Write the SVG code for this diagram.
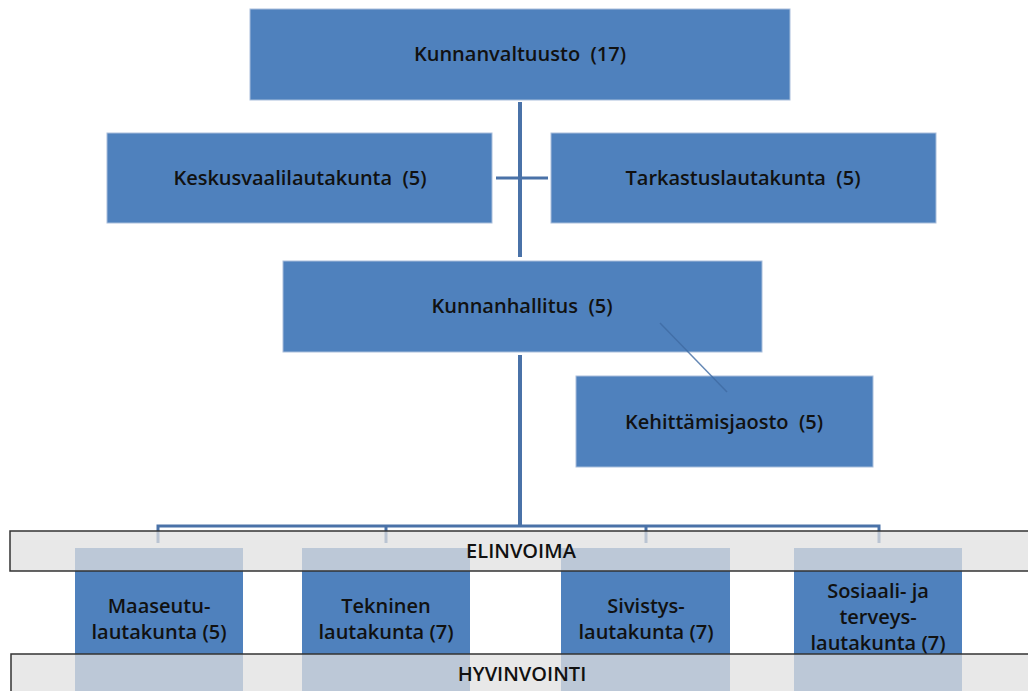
<svg xmlns="http://www.w3.org/2000/svg" width="1028" height="691" viewBox="0 0 1028 691">
<style>
.box{fill:#4f81bd;stroke:#a9bedb;stroke-width:1}
.t{font-family:"Open Sans","Liberation Sans",sans-serif;font-size:20px;font-weight:600;fill:#111;text-anchor:middle;white-space:pre}
.band{fill:#e0e0e0;fill-opacity:0.75;stroke:#333;stroke-width:1.5}
.c{stroke:#4a72a8;fill:none}
</style>
<rect width="1028" height="691" fill="#fff"/>
<g id="connectors">
<line class="c" x1="520" y1="102" x2="520" y2="257" stroke-width="4"/>
<line class="c" x1="496" y1="178" x2="548" y2="178" stroke-width="3"/>
<line class="c" x1="520" y1="355" x2="520" y2="526" stroke-width="4"/>
<polyline class="c" points="158,543 158,526 879,526 879,543" stroke-width="3"/>
<line class="c" x1="386" y1="526" x2="386" y2="543" stroke-width="3"/>
<line class="c" x1="646" y1="526" x2="646" y2="543" stroke-width="3"/>
</g>
<g id="kunnanvaltuusto"><rect class="box" x="250" y="9" width="540" height="91"/><text class="t" x="520" y="61">Kunnanvaltuusto  (17)</text></g>
<g id="keskusvaalilautakunta"><rect class="box" x="107" y="133" width="385" height="90"/><text class="t" x="300" y="185">Keskusvaalilautakunta  (5)</text></g>
<g id="tarkastuslautakunta"><rect class="box" x="551" y="133" width="385" height="90"/><text class="t" x="743" y="185">Tarkastuslautakunta  (5)</text></g>
<g id="kunnanhallitus"><rect class="box" x="283" y="261" width="479" height="91"/><text class="t" x="522" y="313">Kunnanhallitus  (5)</text></g>
<g id="kehittamisjaosto"><rect class="box" x="576" y="376" width="297" height="91"/><text class="t" x="724" y="429">Kehittämisjaosto  (5)</text></g>
<g id="kehittamisjaosto-link"><line x1="660" y1="323" x2="727" y2="392" stroke="#3f6aa3" stroke-width="1.5" stroke-opacity="0.8"/></g>
<g id="maaseutu"><rect x="75" y="548" width="168" height="143" fill="#4f81bd"/></g>
<g id="tekninen"><rect x="302" y="548" width="168" height="143" fill="#4f81bd"/></g>
<g id="sivistys"><rect x="561" y="548" width="169" height="143" fill="#4f81bd"/></g>
<g id="sosiaali"><rect x="794" y="548" width="168" height="143" fill="#4f81bd"/></g>
<g id="elinvoima"><rect class="band" x="10" y="531" width="1030" height="40"/><text class="t" x="521" y="558">ELINVOIMA</text></g>
<g id="hyvinvointi"><rect class="band" x="11" y="654" width="1030" height="50"/><text class="t" x="522" y="681">HYVINVOINTI</text></g>
<g id="labels">
<text class="t" x="159" y="613">Maaseutu-</text><text class="t" x="159" y="639">lautakunta (5)</text>
<text class="t" x="386" y="613">Tekninen</text><text class="t" x="386" y="639">lautakunta (7)</text>
<text class="t" x="646" y="613">Sivistys-</text><text class="t" x="646" y="639">lautakunta (7)</text>
<text class="t" x="878" y="598">Sosiaali- ja</text><text class="t" x="878" y="624">terveys-</text><text class="t" x="878" y="650">lautakunta (7)</text>
</g>
</svg>
